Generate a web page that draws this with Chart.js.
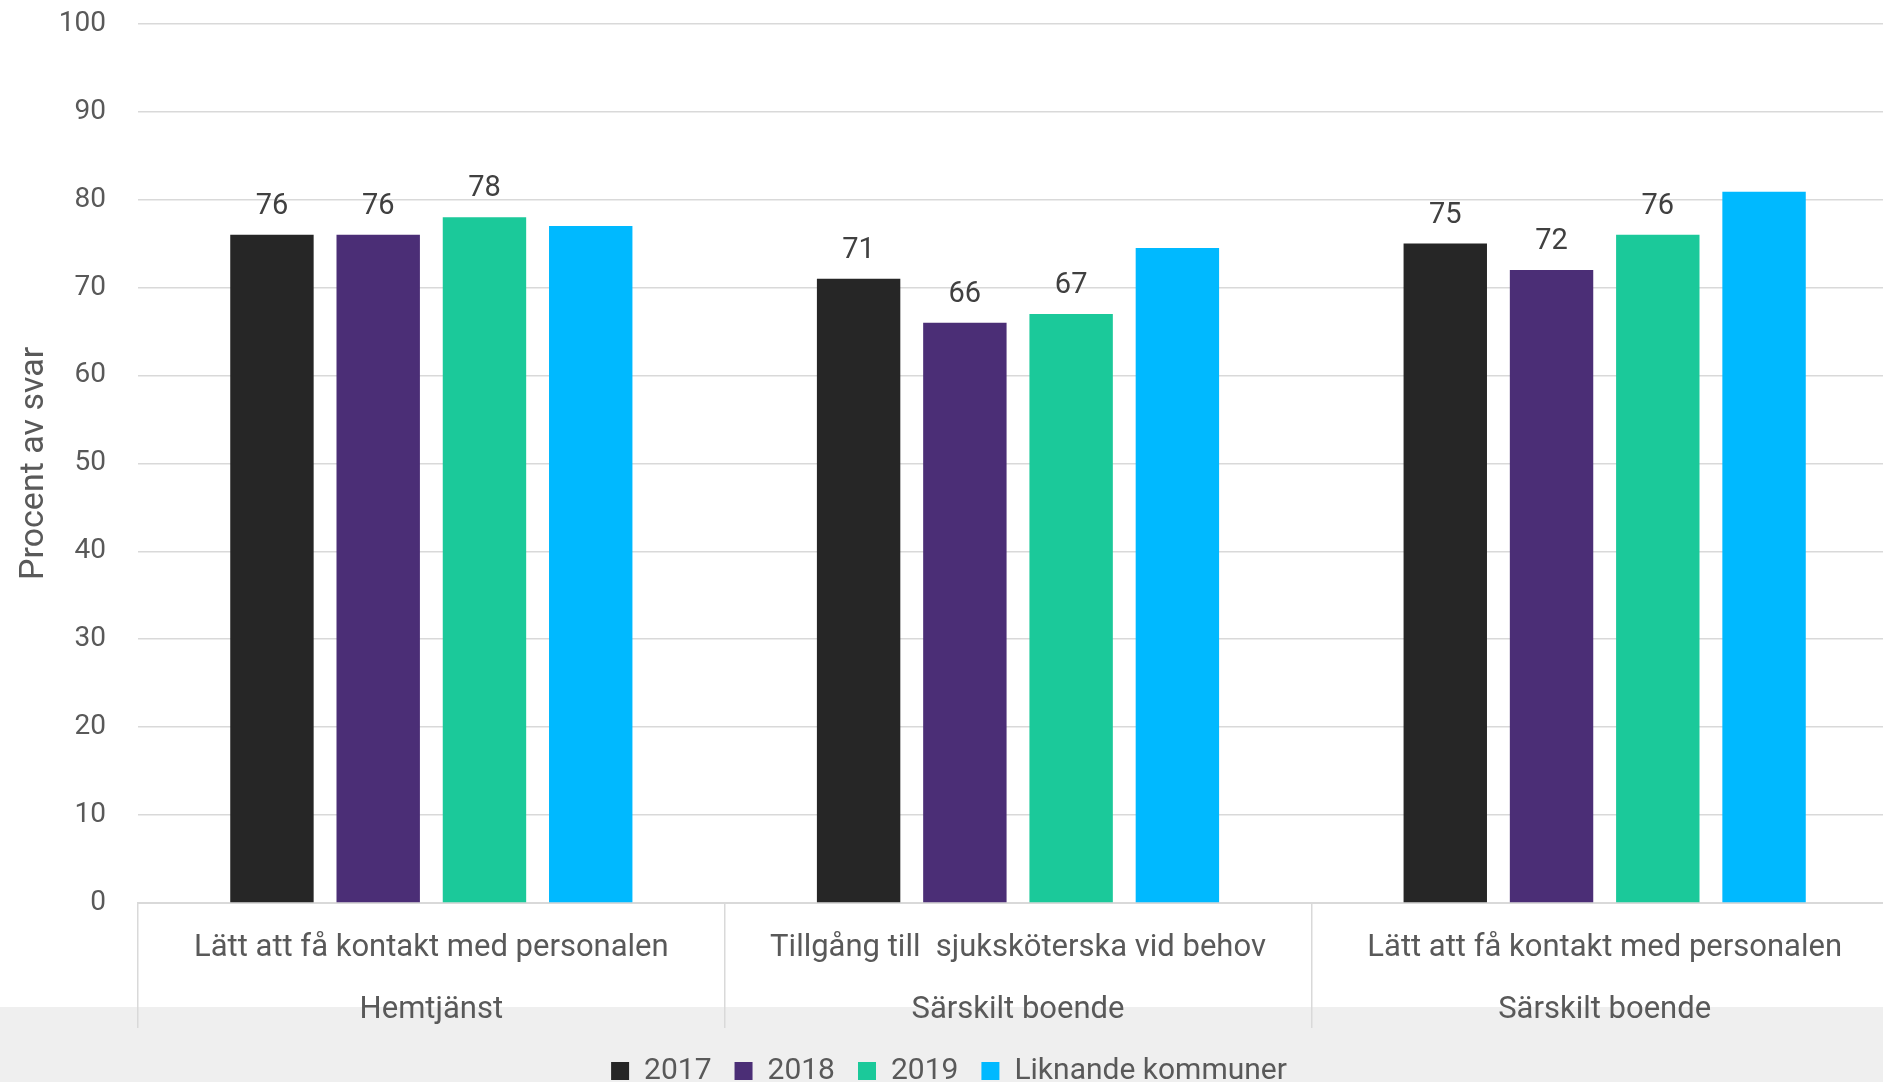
<!DOCTYPE html>
<html><head><meta charset="utf-8">
<script src="https://cdn.jsdelivr.net/npm/chart.js@4.4.1/dist/chart.umd.min.js"></script>
<style>html,body{margin:0;padding:0;overflow:hidden;background:#fff}#wrap{width:1898px;height:1121px;margin-top:-25px;position:relative}</style>
</head><body><div id="wrap"><canvas id="c"></canvas></div>
<script>
const categories = [
  ['Lätt att få kontakt med personalen', 'Hemtjänst'],
  ['Tillgång till  sjuksköterska vid behov', 'Särskilt boende'],
  ['Lätt att få kontakt med personalen', 'Särskilt boende']
];
const seriesNames = ['2017', '2018', '2019', 'Liknande kommuner'];
const values2017 = [76, 71, 75];
const values2018 = [76, 66, 72];
const values2019 = [78, 67, 76];
const valuesLiknande = [77, 74.5, 80.9];
const labelledSeries = [true, true, true, false];
const yTitle = 'Procent av svar';
const yMin = 0, yMax = 100, yStep = 10;

const colors = ['#262626', '#4b2e76', '#1bc99a', '#00b9ff'];
const FONT = 'Roboto, "Noto Sans", sans-serif';
const TEXT = '#595959';

const allValues = [values2017, values2018, values2019, valuesLiknande];
const datasets = allValues.map((v, i) => ({
  label: seriesNames[i],
  data: v,
  backgroundColor: colors[i],
  borderWidth: 0,
  categoryPercentage: 0.7245,
  barPercentage: 0.785
}));

const bandPlugin = {
  id: 'band',
  beforeDraw(chart) {
    const ctx = chart.ctx, x = chart.scales.x;
    const y = x.top + 104;
    ctx.save();
    ctx.fillStyle = '#efefef';
    ctx.fillRect(0, y, chart.width, chart.height - y);
    ctx.restore();
  }
};
const labelPlugin = {
  id: 'vals',
  afterDatasetsDraw(chart) {
    const ctx = chart.ctx;
    ctx.save();
    ctx.font = '29px ' + FONT;
    ctx.fillStyle = '#404040';
    ctx.textAlign = 'center';
    ctx.textBaseline = 'alphabetic';
    chart.data.datasets.forEach((ds, i) => {
      if (!labelledSeries[i]) return;
      chart.getDatasetMeta(i).data.forEach((bar, j) => {
        ctx.fillText(String(ds.data[j]), bar.x, bar.y - 21);
      });
    });
    ctx.restore();
  }
};

new Chart(document.getElementById('c'), {
  type: 'bar',
  data: { labels: categories, datasets },
  plugins: [bandPlugin, labelPlugin],
  options: {
    responsive: true,
    maintainAspectRatio: false,
    animation: false,
    layout: { padding: { top: 0, left: 0, right: 0, bottom: 0 } },
    plugins: {
      tooltip: { enabled: false },
      legend: {
        position: 'bottom',
        labels: {
          boxWidth: 18, boxHeight: 18, padding: 23,
          color: TEXT, font: { family: FONT, size: 30 }
        }
      }
    },
    scales: {
      y: {
        min: yMin, max: yMax,
        ticks: { stepSize: yStep, color: TEXT, padding: 32, font: { family: FONT, size: 28 } },
        grid: { color: '#d9d9d9', lineWidth: 1.5, drawTicks: false },
        border: { display: false },
        title: { display: true, text: yTitle, color: TEXT, font: { family: FONT, size: 34 }, padding: { top: 14, bottom: 0 } },
        afterFit(s) { s.width = 138; }
      },
      x: {
        offset: true,
        grid: { offset: true, drawOnChartArea: false, drawTicks: true, tickLength: 125, color: '#d9d9d9', lineWidth: 1.5 },
        border: { display: true, color: '#d9d9d9', width: 2 },
        ticks: { color: TEXT, padding: -111, autoSkip: false, maxRotation: 0, font: { family: FONT, size: 31, lineHeight: 2.0 } },
        afterFit(s) { s.height = 130; }
      }
    }
  }
});
</script>
</body></html>
